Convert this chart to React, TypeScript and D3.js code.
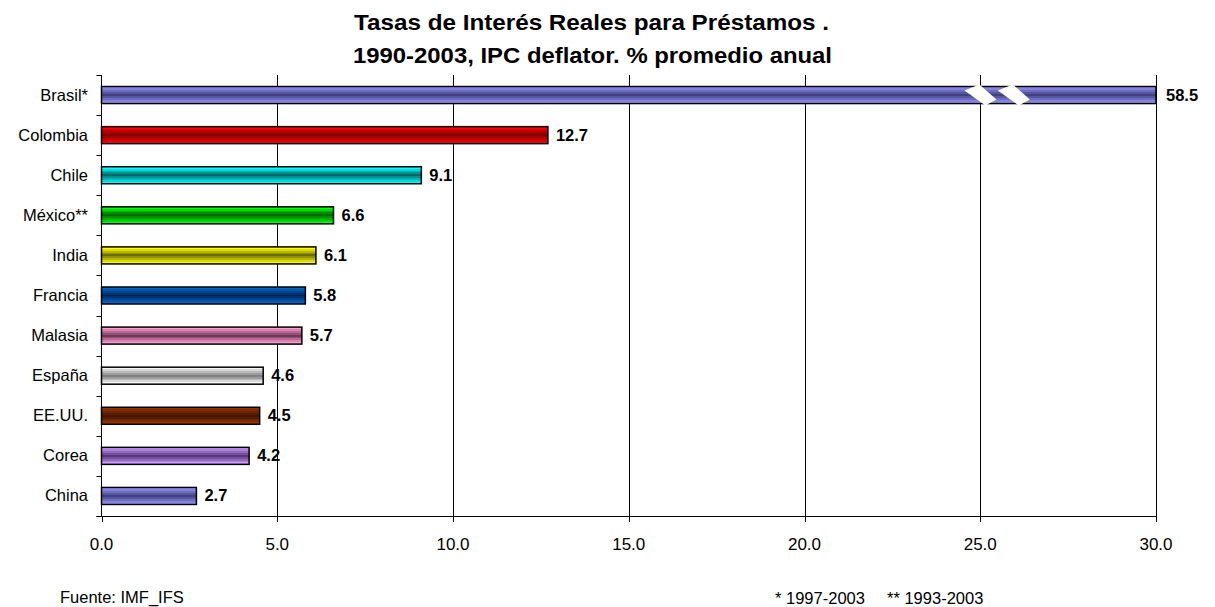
import React from 'react';
import * as d3 from 'd3';

const categories = ['Brasil*', 'Colombia', 'Chile', 'México**', 'India', 'Francia', 'Malasia', 'España', 'EE.UU.', 'Corea', 'China'];
const values = [58.5, 12.7, 9.1, 6.6, 6.1, 5.8, 5.7, 4.6, 4.5, 4.2, 2.7];
const lightColors = ['#9999ff', '#ff0000', '#00ffff', '#00ff00', '#ffff00', '#0066cc', '#ff99cc', '#f4f4f4', '#993300', '#cc99ff', '#9999ff'];
const darkColors = ['#3c3c78', '#7a0000', '#006060', '#006000', '#666600', '#001e4a', '#663352', '#7a7a7a', '#3d1400', '#553373', '#3c3c78'];
const xTicks = [0, 5, 10, 15, 20, 25, 30];
const xMax = 30;
// where the broken Brasil bar gets its two white cuts
const breakValues = [24.55, 25.5];

const titleLines = ['Tasas de Interés Reales para Préstamos .', '1990-2003, IPC deflator. % promedio anual'];
const sourceNote = 'Fuente: IMF_IFS';
const periodNotes = ['* 1997-2003', '** 1993-2003'];

const W = 1215;
const H = 607;
const font = '"Liberation Sans", Arial, Helvetica, sans-serif';

const App = () => {
  const left = 101.5;
  const right = 1156;
  const top = 75;
  const bottom = 516;

  const x = d3.scaleLinear().domain([0, xMax]).range([left, right]);
  const y = d3.scaleBand<string>()
    .domain(categories)
    .range([top, bottom])
    .paddingInner(0.576)
    .paddingOuter(0.288);

  const step = y.step();
  const bw = y.bandwidth();

  // striped cylinder look, light at the edges and dark in the middle
  const stripeStops = (i: number) => {
    const interp = d3.interpolateRgb(lightColors[i], darkColors[i]);
    const n = 5;
    const stops: { off: number; col: string }[] = [];
    const bands = 2 * n - 1;
    for (let k = 0; k < bands; k++) {
      const t = 1 - Math.abs(k - (n - 1)) / (n - 1);
      const col = interp(t * 0.95);
      stops.push({ off: k / bands, col });
      stops.push({ off: (k + 1) / bands, col });
    }
    return stops;
  };

  const boundaries = d3.range(categories.length + 1).map(i => top + i * step);

  return (
    <svg width={W} height={H} style={{ position: 'absolute', left: 0, top: 0, background: '#fff' }}>
      <defs>
        {categories.map((c, i) => (
          <linearGradient key={c} id={`grad${i}`} x1="0" y1="0" x2="0" y2="1">
            {stripeStops(i).map((s, k) => (
              <stop key={k} offset={s.off} stopColor={s.col} />
            ))}
          </linearGradient>
        ))}
      </defs>

      {/* title */}
      <g fontFamily={font} fontWeight="bold" fontSize={22.5} fill="#000" textAnchor="middle">
        <text x={591.5} y={29.5} textLength={475} lengthAdjust="spacingAndGlyphs">{titleLines[0]}</text>
        <text x={592.5} y={63} textLength={479} lengthAdjust="spacingAndGlyphs">{titleLines[1]}</text>
      </g>

      {/* vertical gridlines */}
      <g stroke="#000" strokeWidth={1}>
        {xTicks.filter(t => t > 0).map(t => (
          <line key={t} x1={Math.round(x(t)) + 0.5} x2={Math.round(x(t)) + 0.5} y1={top} y2={bottom} />
        ))}
      </g>

      {/* bars */}
      <g>
        {categories.map((c, i) => {
          const v = Math.min(values[i], xMax);
          return (
            <rect
              key={c}
              x={x(0)}
              y={y(c)!}
              width={x(v) - x(0)}
              height={bw}
              fill={`url(#grad${i})`}
              stroke="#000"
              strokeWidth={1.5}
            />
          );
        })}
      </g>

      {/* axis break marks on the Brasil bar */}
      <g fill="#fff">
        {breakValues.map(bv => {
          const bx = x(bv);
          const by = y(categories[0])!;
          const pts = [
            [bx, by + 4],
            [bx + 15, by - 2],
            [bx + 32, by + 13],
            [bx + 21, by + bw + 2],
          ];
          return <polygon key={bv} points={pts.map(p => p.join(',')).join(' ')} />;
        })}
      </g>

      {/* axes */}
      <g stroke="#000" strokeWidth={1} fill="none">
        <line x1={left} x2={left} y1={top} y2={bottom} />
        <line x1={left - 5} x2={right} y1={bottom + 0.5} y2={bottom + 0.5} />
        {boundaries.map((b, i) => (
          <line key={i} x1={left - 5} x2={left} y1={Math.round(b) + 0.5} y2={Math.round(b) + 0.5} />
        ))}
        {xTicks.map(t => (
          <line key={t} x1={Math.round(x(t)) + 0.5} x2={Math.round(x(t)) + 0.5} y1={bottom} y2={bottom + 6} />
        ))}
      </g>

      {/* category labels */}
      <g fontFamily={font} fontSize={16.5} fill="#000" textAnchor="end">
        {categories.map(c => (
          <text key={c} x={88} y={y(c)! + bw / 2 + 5.5}>{c}</text>
        ))}
      </g>

      {/* value labels */}
      <g fontFamily={font} fontSize={16.5} fontWeight="bold" fill="#000">
        {categories.map((c, i) => (
          <text key={c} x={x(Math.min(values[i], xMax)) + (values[i] > xMax ? 10 : 8)} y={y(c)! + bw / 2 + 5.5}>
            {values[i].toFixed(1)}
          </text>
        ))}
      </g>

      {/* x tick labels */}
      <g fontFamily={font} fontSize={17} fill="#000" textAnchor="middle">
        {xTicks.map(t => (
          <text key={t} x={x(t)} y={550}>{d3.format('.1f')(t)}</text>
        ))}
      </g>

      {/* footnotes */}
      <g fontFamily={font} fontSize={16.5} fill="#000">
        <text x={60} y={603}>{sourceNote}</text>
        <text x={775} y={604}>{periodNotes[0]}</text>
        <text x={887} y={604}>{periodNotes[1]}</text>
      </g>
    </svg>
  );
};

export default App;
